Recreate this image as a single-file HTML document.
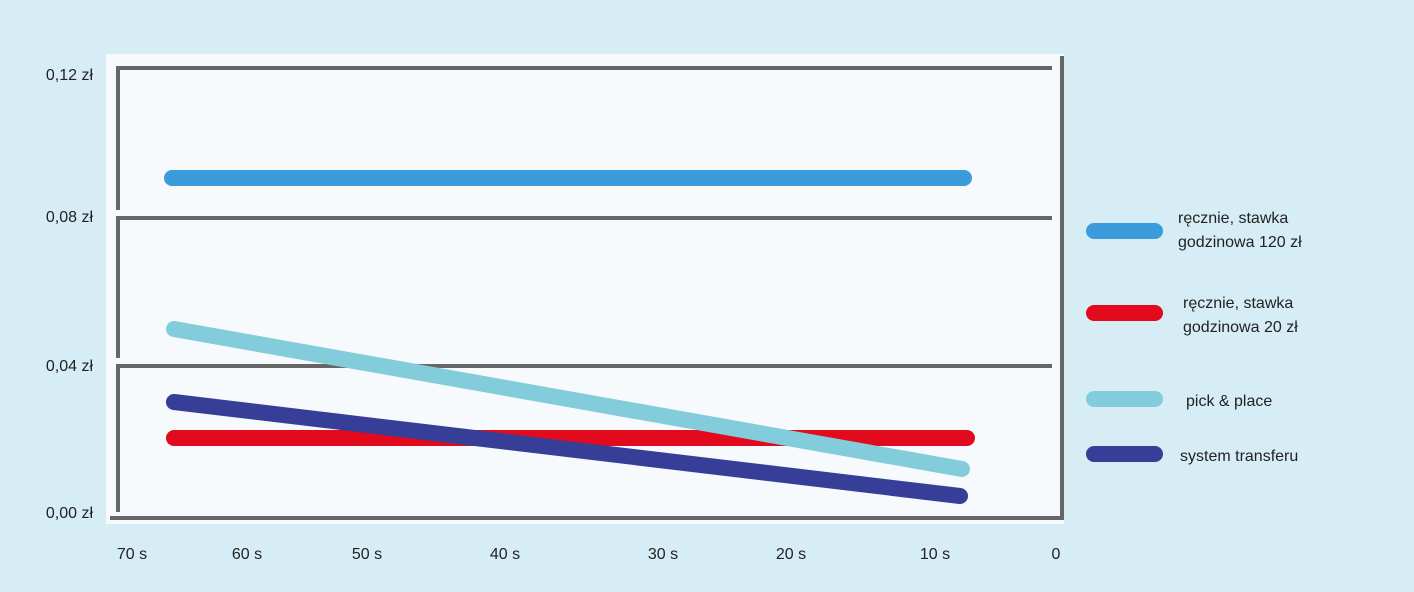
<!DOCTYPE html><html><head><style>body{margin:0;background:#d6edf6;}svg{display:block}text{font-family:"Liberation Sans",sans-serif;font-size:16px;fill:#222}</style></head><body>
<svg width="1414" height="592" xmlns="http://www.w3.org/2000/svg">
<rect width="1414" height="592" fill="#d6edf6"/>
<rect x="106" y="54" width="958" height="470" fill="#f7fafd"/>
<g stroke="#666" stroke-width="4" fill="none">
<path d="M118,210 V68 H1052"/>
<path d="M118,358 V218 H1052"/>
<path d="M118,512 V366 H1052"/>
<path d="M110,518 H1062 V56"/>
</g>
<g stroke-linecap="round" stroke-width="16" fill="none">
<line x1="172" y1="178" x2="964" y2="178" stroke="#3b9bdb"/>
<line x1="174" y1="438" x2="967" y2="438" stroke="#e30a1e"/>
<line x1="174" y1="329" x2="962" y2="469" stroke="#83ccdb"/>
<line x1="174" y1="402" x2="960" y2="496" stroke="#373e97"/>
<line x1="1094" y1="231" x2="1155" y2="231" stroke="#3b9bdb"/>
<line x1="1094" y1="313" x2="1155" y2="313" stroke="#e30a1e"/>
<line x1="1094" y1="399" x2="1155" y2="399" stroke="#83ccdb"/>
<line x1="1094" y1="454" x2="1155" y2="454" stroke="#373e97"/>
</g>
<g text-anchor="end"><text x="93" y="80">0,12 zł</text><text x="93" y="222">0,08 zł</text><text x="93" y="371">0,04 zł</text><text x="93" y="518">0,00 zł</text></g>
<g text-anchor="middle"><text x="132" y="559">70 s</text><text x="247" y="559">60 s</text><text x="367" y="559">50 s</text><text x="505" y="559">40 s</text><text x="663" y="559">30 s</text><text x="791" y="559">20 s</text><text x="935" y="559">10 s</text><text x="1056" y="559">0</text></g>
<text x="1178" y="223">ręcznie, stawka</text><text x="1178" y="247">godzinowa 120 zł</text>
<text x="1183" y="308">ręcznie, stawka</text><text x="1183" y="332">godzinowa 20 zł</text>
<text x="1186" y="406">pick &amp; place</text>
<text x="1180" y="461">system transferu</text>
</svg></body></html>
